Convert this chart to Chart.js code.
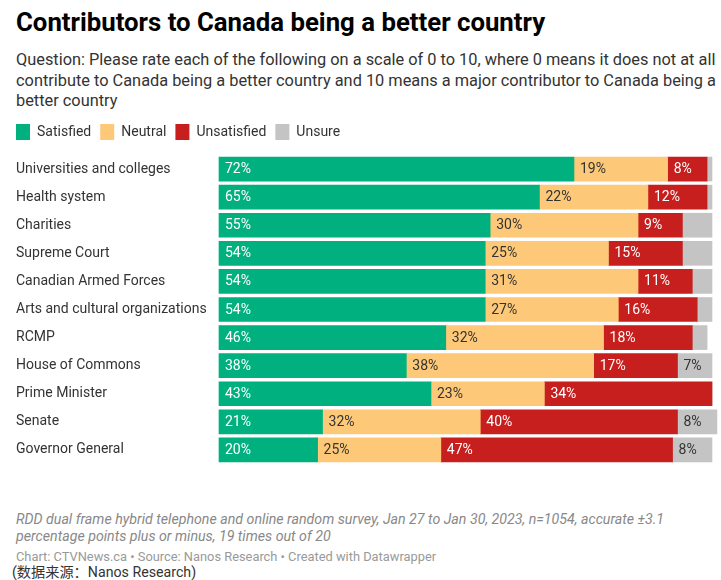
<!DOCTYPE html>
<html>
<head>
<meta charset="utf-8">
<script src="https://cdn.jsdelivr.net/npm/chart.js@4.4.1/dist/chart.umd.min.js"></script>
<style>
  html, body { margin: 0; padding: 0; background: #fff; }
  body { width: 721px; height: 580px; position: relative; overflow: hidden; font-family: Roboto, "Noto Sans", sans-serif; }
  #title { position: absolute; left: 16px; top: 7px; font-weight: bold; font-size: 25.75px; line-height: 30px; color: #000; white-space: nowrap; }
  #sub { position: absolute; left: 16px; top: 50px; font-size: 16.35px; line-height: 20.6px; color: #333; white-space: nowrap; }
  #wrap { position: absolute; left: 0; top: 115px; width: 721px; height: 363px; }
  #notes { position: absolute; left: 16px; top: 511px; font-style: italic; font-size: 14.2px; line-height: 17px; color: #888; white-space: nowrap; }
  #credit { position: absolute; left: 16px; top: 549px; font-size: 12.85px; line-height: 16px; color: #999; white-space: nowrap; }
  #src { position: absolute; left: 12px; top: 563px; font-size: 14.2px; line-height: 18px; color: #333; white-space: nowrap; font-family: Roboto, "Noto Sans CJK SC", sans-serif; }
</style>
</head>
<body>
<div id="title">Contributors to Canada being a better country</div>
<div id="sub">Question: Please rate each of the following on a scale of 0 to 10, where 0 means it does not at all<br>contribute to Canada being a better country and 10 means a major contributor to Canada being a<br>better country</div>
<div id="wrap"><canvas id="c"></canvas></div>
<div id="notes">RDD dual frame hybrid telephone and online random survey, Jan 27 to Jan 30, 2023, n=1054, accurate ±3.1<br>percentage points plus or minus, 19 times out of 20</div>
<div id="credit">Chart: CTVNews.ca • Source: Nanos Research • Created with Datawrapper</div>
<div id="src">(数据来源：Nanos Research)</div>
<script>
const categories = [
  "Universities and colleges",
  "Health system",
  "Charities",
  "Supreme Court",
  "Canadian Armed Forces",
  "Arts and cultural organizations",
  "RCMP",
  "House of Commons",
  "Prime Minister",
  "Senate",
  "Governor General"
];
const seriesNames = ["Satisfied", "Neutral", "Unsatisfied", "Unsure"];
const satisfied   = [72, 65, 55, 54, 54, 54, 46, 38, 43, 21, 20];
const neutral     = [19, 22, 30, 25, 31, 27, 32, 38, 23, 32, 25];
const unsatisfied = [ 8, 12,  9, 15, 11, 16, 18, 17, 34, 40, 47];
const unsure      = [ 1,  1,  6,  6,  4,  3,  3,  7,  0,  8,  8];

const colors = ["#00b07e", "#fdc878", "#c71e1e", "#c4c4c4"];
const labelColors = ["#ffffff", "#333333", "#ffffff", "#333333"];

const segLabels = {
  id: 'segLabels',
  afterDatasetsDraw(chart) {
    const ctx = chart.ctx;
    ctx.save();
    ctx.font = '14px Roboto';
    ctx.textBaseline = 'middle';
    ctx.textAlign = 'left';
    chart.data.datasets.forEach((ds, di) => {
      const meta = chart.getDatasetMeta(di);
      if (meta.hidden) return;
      meta.data.forEach((bar, i) => {
        const v = ds.data[i];
        if (v == null || v < 7) return;
        const left = Math.min(bar.x, bar.base);
        ctx.fillStyle = labelColors[di];
        ctx.fillText(v + '%', left + 6, bar.y + 0.5);
      });
    });
    ctx.restore();
  }
};

const legendShift = {
  id: 'legendShift',
  afterLayout(chart) {
    if (chart.legend) {
      const p = chart.legend.options.labels.padding;
      chart.legend.left -= p;
    }
  }
};

const datasets = [satisfied, neutral, unsatisfied, unsure].map((d, i) => ({
  label: seriesNames[i],
  data: d,
  backgroundColor: colors[i],
  borderWidth: 0,
  barThickness: 24,
  clip: false
}));

new Chart(document.getElementById('c'), {
  type: 'bar',
  data: { labels: categories, datasets },
  plugins: [segLabels, legendShift],
  options: {
    indexAxis: 'y',
    responsive: true,
    maintainAspectRatio: false,
    animation: false,
    layout: { padding: { left: 16, right: 9, top: 0, bottom: 14 } },
    plugins: {
      legend: {
        display: true,
        position: 'top',
        align: 'start',
        labels: {
          boxWidth: 14,
          boxHeight: 16,
          padding: 9,
          color: '#333',
          font: { family: 'Roboto', size: 14 }
        }
      },
      tooltip: { enabled: false },
      title: { display: false }
    },
    scales: {
      x: {
        stacked: true,
        min: 0,
        max: 100,
        position: 'top',
        display: true,
        grid: { display: false, drawTicks: false },
        border: { display: false },
        ticks: { display: false },
        afterFit(scale) { scale.height = 5; }
      },
      y: {
        stacked: true,
        grid: { display: false, drawTicks: false },
        border: { display: false },
        ticks: {
          crossAlign: 'far',
          color: '#333',
          padding: 0,
          font: { family: 'Roboto', size: 14 }
        },
        afterFit(scale) { scale.width = 203; }
      }
    }
  }
});
</script>
</body>
</html>
